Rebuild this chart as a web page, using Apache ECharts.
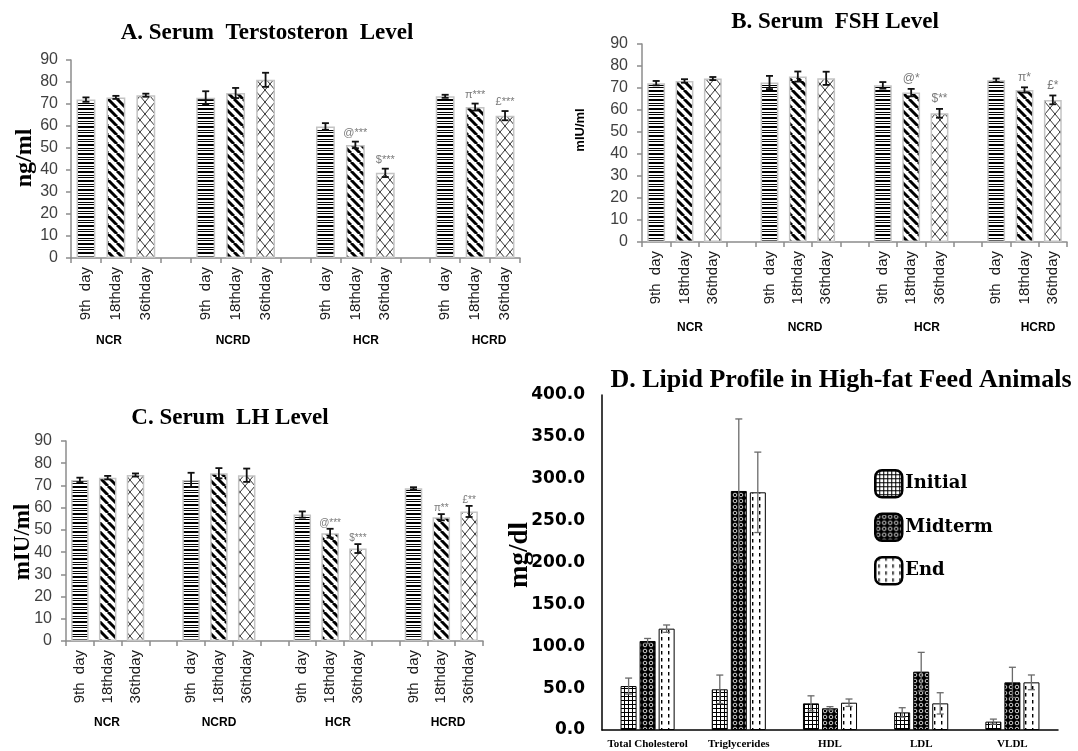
<!DOCTYPE html>
<html>
<head>
<meta charset="UTF-8">
<title>Hormone and lipid panels</title>
<style>
  html, body { margin: 0; padding: 0; background: #fff; }
  #main { width: 1078px; height: 751px; }
</style>
</head>
<body>
<div id="main"></div>
<script src="https://cdn.jsdelivr.net/npm/echarts@6/dist/echarts.min.js"></script>
<script>
// ---- data ----
var groups = ['NCR', 'NCRD', 'HCR', 'HCRD'];
var dayLabels = ['9th  day', '18thday', '36thday'];

// A. testosterone (ng/ml)
var tesMean9 = [72.0, 72.8, 59.8, 73.5];
var tesMean18 = [73.0, 75.0, 51.4, 68.6];
var tesMean36 = [74.0, 81.0, 38.7, 64.7];
var tesErr9 = [1.0, 3.0, 1.5, 0.7];
var tesErr18 = [0.7, 2.3, 1.5, 1.6];
var tesErr36 = [0.7, 3.2, 1.9, 2.1];
var tesMark18 = ['', '', '@***', 'π***'];
var tesMark36 = ['', '', '$***', '£***'];

// B. FSH (mIU/ml)
var fshMean9 = [72.2, 72.5, 71.2, 73.5];
var fshMean18 = [73.2, 75.2, 67.9, 69.1];
var fshMean36 = [74.3, 74.4, 58.5, 64.6];
var fshErr9 = [1.0, 3.0, 1.5, 0.8];
var fshErr18 = [0.8, 2.3, 1.7, 1.2];
var fshErr36 = [0.7, 3.0, 2.0, 2.0];
var fshMark18 = ['', '', '@*', 'π*'];
var fshMark36 = ['', '', '$**', '£*'];

// C. LH (mIU/ml)
var lhMean9 = [72.5, 72.5, 56.9, 68.7];
var lhMean18 = [73.5, 75.5, 48.5, 55.7];
var lhMean36 = [74.7, 74.6, 41.6, 58.3];
var lhErr9 = [1.0, 3.2, 1.4, 0.5];
var lhErr18 = [0.8, 2.3, 2.0, 1.4];
var lhErr36 = [0.7, 3.0, 2.0, 2.5];
var lhMark18 = ['', '', '@***', 'π**'];
var lhMark36 = ['', '', '$***', '£**'];

// D. lipid profile (mg/dl)
var lipidCats = ['Total Cholesterol', 'Triglycerides', 'HDL', 'LDL', 'VLDL'];
var lipInitial = [52.5, 48.6, 31.8, 21.0, 10.0];
var lipMid = [106.3, 285.4, 25.9, 69.7, 56.9];
var lipEnd = [121.0, 283.8, 32.6, 31.8, 56.9];
var lipInitialErr = [9.5, 17.0, 9.0, 5.6, 3.0];
var lipMidErr = [3.0, 86.0, 2.0, 23.0, 18.0];
var lipEndErr = [4.4, 48.0, 4.4, 12.7, 8.8];
var lipTicks = [0, 50, 100, 150, 200, 250, 300, 350, 400];

// ---- fill patterns ----
function makePattern(w, h, draw) {
	var c = document.createElement('canvas');
	c.width = w; c.height = h;
	var ctx = c.getContext('2d');
	ctx.fillStyle = '#fff';
	ctx.fillRect(0, 0, w, h);
	draw(ctx, w, h);
	return { image: c, repeat: 'repeat' };
}
var patHoriz = makePattern(4, 18, function(ctx) {
	ctx.fillStyle = '#000';
	[[0, 2], [4, 1], [6, 1], [9, 2], [13, 1], [15, 1]].forEach(function(r) {
		ctx.fillRect(0, r[0], 4, r[1]);
	});
});
var patDiag = makePattern(9, 9, function(ctx) {
	ctx.strokeStyle = '#000';
	ctx.lineWidth = 3;
	[-9, 0, 9].forEach(function(o) {
		ctx.beginPath(); ctx.moveTo(o, 0); ctx.lineTo(o + 9, 9); ctx.stroke();
	});
});
var patLattice = makePattern(10, 12, function(ctx) {
	ctx.strokeStyle = '#333';
	ctx.lineWidth = 1;
	ctx.beginPath(); ctx.moveTo(0, 0); ctx.lineTo(10, 12); ctx.stroke();
	ctx.beginPath(); ctx.moveTo(10, 0); ctx.lineTo(0, 12); ctx.stroke();
});
var patGrid = makePattern(4, 4, function(ctx) {
	ctx.fillStyle = '#000';
	ctx.fillRect(0, 0, 4, 1);
	ctx.fillRect(0, 0, 1, 4);
});
var patDots = makePattern(6, 6, function(ctx) {
	ctx.fillStyle = '#000';
	ctx.fillRect(0, 0, 6, 6);
	ctx.strokeStyle = '#fff';
	ctx.lineWidth = 0.8;
	ctx.beginPath(); ctx.arc(3, 3, 1.8, 0, Math.PI * 2); ctx.stroke();
});
var patDash = makePattern(7, 7, function(ctx) {
	ctx.fillStyle = '#000';
	ctx.fillRect(3, 0, 1.4, 3.5);
});

// ---- helpers ----
var slots = [];
groups.forEach(function(g, gi) {
	dayLabels.forEach(function(d) { slots.push(d); });
	if (gi < groups.length - 1) slots.push('');
});

function barData(means, day) {
	var out = slots.map(function() { return null; });
	means.forEach(function(v, gi) { out[gi * 4 + day] = v; });
	return out;
}

function errList(means, errs, marks) {
	var list = [];
	for (var d = 0; d < 3; d++) {
		means[d].forEach(function(v, gi) {
			list.push({ x: gi * 4 + d, mean: v, err: errs[d][gi], mark: marks[d] ? marks[d][gi] : '' });
		});
	}
	return list;
}

function hormoneSeries(idx, means, errs, marks, markFont, markGap) {
	var pats = [patHoriz, patDiag, patLattice];
	var out = [];
	for (var d = 0; d < 3; d++) {
		out.push({
			type: 'bar', xAxisIndex: idx, yAxisIndex: idx,
			name: dayLabels[d],
			data: barData(means[d], d),
			barWidth: '63%', barGap: '-100%',
			itemStyle: { color: pats[d], borderColor: '#c4c4c4', borderWidth: 1.5 },
			silent: true
		});
	}
	var list = errList(means, errs, marks);
	out.push({
		type: 'custom', xAxisIndex: idx, yAxisIndex: idx, z: 5, silent: true,
		data: list.map(function(o) { return [o.x, o.mean, o.err]; }),
		encode: { x: 0, y: 1 },
		renderItem: function(params, api) {
			var o = list[params.dataIndex];
			var top = api.coord([o.x, o.mean + o.err]);
			var bot = api.coord([o.x, o.mean - o.err]);
			var x = top[0], cw = 3.5;
			var st = { stroke: '#111', lineWidth: 1.8 };
			var kids = [
				{ type: 'line', shape: { x1: x, y1: top[1], x2: x, y2: bot[1] }, style: st },
				{ type: 'line', shape: { x1: x - cw, y1: top[1], x2: x + cw, y2: top[1] }, style: st },
				{ type: 'line', shape: { x1: x - cw, y1: bot[1], x2: x + cw, y2: bot[1] }, style: st }
			];
			if (o.mark) {
				kids.push({ type: 'text', style: { text: o.mark, x: x, y: top[1] - markGap,
					textAlign: 'center', textVerticalAlign: 'middle',
					font: markFont, fill: '#7a7a7a' } });
			}
			return { type: 'group', children: kids };
		}
	});
	return out;
}

function hormoneX(idx) {
	return {
		type: 'category', gridIndex: idx, data: slots,
		axisLine: { lineStyle: { color: '#8c8c8c', width: 1.5 } },
		axisTick: { show: true, interval: 0, length: 5, lineStyle: { color: '#8c8c8c', width: 1.5 } },
		axisLabel: { interval: 0, rotate: 90, margin: 9, color: '#1a1a1a',
			fontFamily: 'Liberation Sans', fontSize: 15 }
	};
}
function hormoneY(idx, margin) {
	return {
		type: 'value', gridIndex: idx, min: 0, max: 90, interval: 10,
		axisLine: { show: true, lineStyle: { color: '#8c8c8c', width: 1.5 } },
		axisTick: { show: true, length: 5, lineStyle: { color: '#8c8c8c', width: 1.5 } },
		splitLine: { show: false },
		axisLabel: { margin: margin, color: '#404040', fontFamily: 'Liberation Sans', fontSize: 16 }
	};
}

function lipidErr(means, errs, s) {
	return {
		type: 'custom', xAxisIndex: 3, yAxisIndex: 3, z: 5, silent: true,
		data: means.map(function(v, i) { return [i, v, errs[i]]; }),
		encode: { x: 0, y: 1 },
		renderItem: function(params, api) {
			var i = api.value(0), v = api.value(1), e = api.value(2);
			var top = api.coord([i, v + e]);
			var bot = api.coord([i, v - e]);
			var x = top[0] + (s - 1) * 19, cw = 3.5;
			var st = { stroke: '#6a6a6a', lineWidth: 1.3 };
			return { type: 'group', children: [
				{ type: 'line', shape: { x1: x, y1: top[1], x2: x, y2: bot[1] }, style: st },
				{ type: 'line', shape: { x1: x - cw, y1: top[1], x2: x + cw, y2: top[1] }, style: st },
				{ type: 'line', shape: { x1: x - cw, y1: bot[1], x2: x + cw, y2: bot[1] }, style: st }
			] };
		}
	};
}

function label(text, x, y, font, rot) {
	return { type: 'text', x: x, y: y, rotation: rot || 0, silent: true,
		style: { text: text, font: font, fill: '#000', textAlign: 'center', textVerticalAlign: 'middle' } };
}

var groupPos = [
	{ y: 341, xs: [109, 233, 366, 489] },
	{ y: 328, xs: [690, 805, 927, 1038] },
	{ y: 723, xs: [107, 219, 338, 448] }
];
var graphics = [
	label('A. Serum  Terstosteron  Level', 267, 33, 'bold 23px "Liberation Serif"'),
	label('B. Serum  FSH Level', 835, 22, 'bold 23px "Liberation Serif"'),
	label('C. Serum  LH Level', 230, 418, 'bold 23px "Liberation Serif"'),
	label('D. Lipid Profile in High-fat Feed Animals', 841, 380, 'bold 26px "Liberation Serif"'),
	label('ng/ml', 25, 158, 'bold 24px "Liberation Serif"', Math.PI / 2),
	label('mIU/ml', 580, 130, 'bold 13px "Liberation Sans"', Math.PI / 2),
	label('mIU/ml', 23, 542, 'bold 23px "Liberation Serif"', Math.PI / 2),
	label('mg/dl', 520, 555, 'bold 27px "Liberation Serif"', Math.PI / 2)
];
groupPos.forEach(function(p) {
	groups.forEach(function(g, i) {
		graphics.push(label(g, p.xs[i], p.y, 'bold 12px "Liberation Sans"'));
	});
});

var series = []
	.concat(hormoneSeries(0, [tesMean9, tesMean18, tesMean36], [tesErr9, tesErr18, tesErr36],
		[null, tesMark18, tesMark36], '11px "Liberation Sans"', 9))
	.concat(hormoneSeries(1, [fshMean9, fshMean18, fshMean36], [fshErr9, fshErr18, fshErr36],
		[null, fshMark18, fshMark36], '12px "Liberation Sans"', 10))
	.concat(hormoneSeries(2, [lhMean9, lhMean18, lhMean36], [lhErr9, lhErr18, lhErr36],
		[null, lhMark18, lhMark36], '10px "Liberation Sans"', 6));

var lipidBar = function(name, data, pat) {
	return { type: 'bar', name: name, xAxisIndex: 3, yAxisIndex: 3, data: data,
		barWidth: 16, barGap: '19%', silent: true,
		itemStyle: { color: pat, borderColor: '#000', borderWidth: 1 } };
};
series.push(lipidBar('Initial', lipInitial, patGrid));
series.push(lipidBar('Midterm', lipMid, patDots));
series.push(lipidBar('End', lipEnd, patDash));
series.push(lipidErr(lipInitial, lipInitialErr, 0));
series.push(lipidErr(lipMid, lipMidErr, 1));
series.push(lipidErr(lipEnd, lipEndErr, 2));

var myChart = echarts.init(document.getElementById('main'));
myChart.setOption({
	animation: false,
	backgroundColor: '#fff',
	grid: [
		{ left: 71, top: 60, right: 558, bottom: 493 },
		{ left: 642, top: 44, right: 11, bottom: 509 },
		{ left: 66, top: 441, right: 595, bottom: 110 },
		{ left: 602, top: 395, right: 20, bottom: 21 }
	],
	xAxis: [
		hormoneX(0), hormoneX(1), hormoneX(2),
		{
			type: 'category', gridIndex: 3, data: lipidCats,
			axisLine: { lineStyle: { color: '#000', width: 1.5 } },
			axisTick: { show: false },
			axisLabel: { interval: 0, margin: 9, color: '#000', fontFamily: 'Liberation Serif',
				fontWeight: 'bold', fontSize: 11 }
		}
	],
	yAxis: [
		hormoneY(0, 13), hormoneY(1, 14), hormoneY(2, 14),
		{
			type: 'value', gridIndex: 3, min: lipTicks[0], max: lipTicks[lipTicks.length - 1],
			interval: lipTicks[1] - lipTicks[0],
			axisLine: { show: true, lineStyle: { color: '#000', width: 1.5 } },
			axisTick: { show: false },
			splitLine: { show: false },
			axisLabel: { margin: 17, color: '#000', fontFamily: 'DejaVu Sans', fontWeight: 'bold',
				fontSize: 17, formatter: function(v) { return v.toFixed(1); } }
		}
	],
	legend: {
		data: ['Initial', 'Midterm', 'End'],
		orient: 'vertical', left: 869, top: 464,
		itemWidth: 27, itemHeight: 27, itemGap: 14,
		icon: 'roundRect',
		itemStyle: { borderColor: '#000', borderWidth: 2.5 },
		textStyle: { fontFamily: 'DejaVu Serif', fontWeight: 'bold', fontSize: 18, color: '#000', padding: [0, 0, 0, -2] }
	},
	graphic: graphics,
	series: series
});
</script>
</body>
</html>
